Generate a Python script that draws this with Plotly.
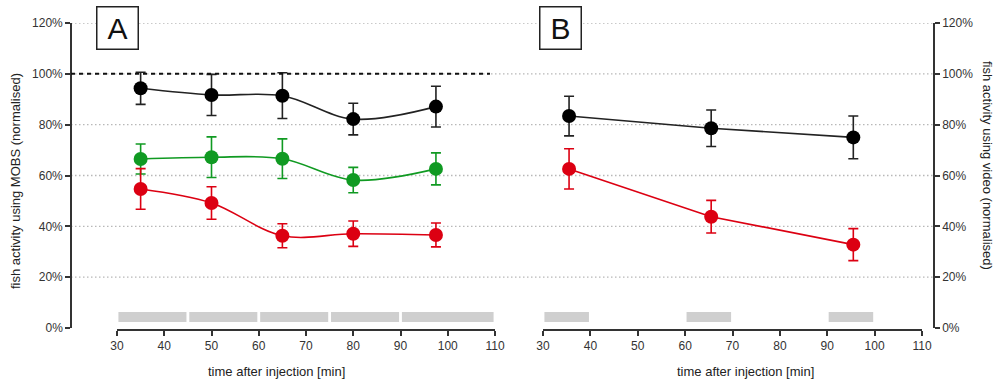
import plotly.graph_objects as go

# ---------------- data ----------------
# Panel A (MOBS)
time_a = [35, 50, 65, 80, 97.5]
black_a = [94.3, 91.7, 91.4, 82.2, 87.1]
black_a_err = [6.3, 8.1, 9.0, 6.2, 8.0]
green_a = [66.5, 67.2, 66.6, 58.2, 62.6]
green_a_err = [5.9, 8.0, 7.8, 5.0, 6.3]
red_a = [54.7, 49.2, 36.3, 37.1, 36.6]
red_a_err = [8.0, 6.4, 4.7, 5.0, 4.7]

# Panel B (video)
time_b = [35.5, 65.5, 95.5]
black_b = [83.4, 78.6, 75.0]
black_b_err = [7.8, 7.2, 8.4]
red_b = [62.6, 43.8, 32.8]
red_b_err = [7.9, 6.4, 6.3]

# measurement windows (grey bars) [start, end]
windows_a_start = [30, 45, 60, 75, 90]
windows_a_end = [45, 60, 75, 90, 110]
windows_b_start = [30, 60, 90]
windows_b_end = [40, 70, 100]
window_low, window_high = 2.4, 6.3

y_ticks = [0, 20, 40, 60, 80, 100, 120]
y_tick_labels = [f"{v}%" for v in y_ticks]
x_ticks = [30, 40, 50, 60, 70, 80, 90, 100, 110]
reference_level = 100

# ---------------- styles ----------------
FONT = "Liberation Sans, Arial, sans-serif"
BLACK = "#000000"
BLACK_LINE = "#222222"
GREEN = "#109a22"
RED = "#dc0012"
AXIS = "#333333"

fig = go.Figure()

# grey window bars
gap = 0.6
for starts, ends, xa in [(windows_a_start, windows_a_end, "x"),
                         (windows_b_start, windows_b_end, "x2")]:
    fig.add_trace(go.Bar(
        x=[(s + e) / 2 for s, e in zip(starts, ends)],
        y=[window_high - window_low] * len(starts),
        base=[window_low] * len(starts),
        width=[(e - s) - gap for s, e in zip(starts, ends)],
        marker=dict(color="#cfcfcf", line=dict(width=0)),
        xaxis=xa, yaxis="y", showlegend=False, hoverinfo="skip"))


def series(x, y, err, color, line_color, xa, shape):
    fig.add_trace(go.Scatter(
        x=x, y=y, mode="lines+markers", xaxis=xa, yaxis="y",
        line=dict(color=line_color, width=1.6, shape=shape, smoothing=1.0),
        marker=dict(color=color, size=14, line=dict(width=0)),
        error_y=dict(type="data", array=err, visible=True, color=line_color,
                     thickness=1.6, width=5),
        showlegend=False))


series(time_a, black_a, black_a_err, BLACK, BLACK_LINE, "x", "spline")
series(time_a, green_a, green_a_err, GREEN, GREEN, "x", "spline")
series(time_a, red_a, red_a_err, RED, RED, "x", "spline")
series(time_b, black_b, black_b_err, BLACK, BLACK_LINE, "x2", "linear")
series(time_b, red_b, red_b_err, RED, RED, "x2", "linear")

# dummy trace for right axis
fig.add_trace(go.Scatter(x=[None], y=[None], xaxis="x2", yaxis="y2",
                         showlegend=False, hoverinfo="skip"))

# horizontal dotted grid lines across the full width
shapes = []
for v in y_ticks[1:]:
    shapes.append(dict(type="line", xref="paper", yref="y", x0=0, x1=1,
                       y0=v, y1=v, layer="below",
                       line=dict(color="#b8b8b8", width=1.3,
                                 dash="1.5px,2.5px")))
# dashed 100% reference line in panel A
shapes.append(dict(type="line", xref="paper", yref="y", x0=0, x1=0.4855,
                   y0=reference_level, y1=reference_level, layer="above",
                   line=dict(color="#111111", width=2, dash="4px,4px")))

W, H = 1000, 383
L, R, T, B = 71, 66, 23, 53
pw = W - L - R
ph = H - T - B


def px_x(p):
    return (p - L) / pw


def px_y(p):
    return (H - B - p) / ph


xaxis_common = dict(range=[30, 110], tickvals=x_ticks, showline=True,
                    linecolor=AXIS, linewidth=1.6, ticks="outside",
                    ticklen=5, tickwidth=1.6, tickcolor=AXIS, showgrid=False,
                    zeroline=False, anchor="free", position=0,
                    tickfont=dict(family=FONT, size=12, color="#333333"))
yaxis_common = dict(range=[0, 120], tickmode="array", tickvals=y_ticks,
                    ticktext=y_tick_labels,
                    showline=True, linecolor=AXIS, linewidth=1.6,
                    ticks="outside", ticklen=5, tickwidth=1.6, tickcolor=AXIS,
                    showgrid=False, zeroline=False, anchor="free",
                    domain=[2 / ph, 1],
                    tickfont=dict(family=FONT, size=12, color="#333333"))


def note(text, x, y, **kw):
    d = dict(text=text, xref="paper", yref="paper", x=px_x(x), y=px_y(y),
             xanchor="center", yanchor="middle", showarrow=False,
             font=dict(family=FONT, size=13, color="#222222"))
    d.update(kw)
    return d


box_font = dict(family=FONT, size=30, color="#111111")

fig.update_layout(
    width=W, height=H,
    margin=dict(l=L, r=R, t=T, b=B),
    paper_bgcolor="white", plot_bgcolor="rgba(0,0,0,0)",
    barmode="overlay",
    xaxis=dict(domain=[px_x(117), px_x(495)], **xaxis_common),
    xaxis2=dict(domain=[px_x(543), px_x(922)], **xaxis_common),
    yaxis=dict(position=0, side="left", **yaxis_common),
    yaxis2=dict(position=1, side="right", overlaying="y", **yaxis_common),
    shapes=shapes,
    annotations=[
        note("time after injection [min]", 276, 371),
        note("time after injection [min]", 745, 371),
        note("fish activity using MOBS (normalised)", 15, 181,
             textangle=-90),
        note("fish activity using video (normalised)", 988, 165,
             textangle=90),
        note("A", 117, 27.5, width=40, height=41, bordercolor="#222222",
             borderwidth=1.5, borderpad=0, bgcolor="white", font=box_font),
        note("B", 560, 27.5, width=40, height=41, bordercolor="#222222",
             borderwidth=1.5, borderpad=0, bgcolor="white", font=box_font),
    ],
)

fig.write_html("out.html",
               config={"displayModeBar": False},
               post_script="document.body.style.margin='0';"
                           "document.body.style.padding='0';")
